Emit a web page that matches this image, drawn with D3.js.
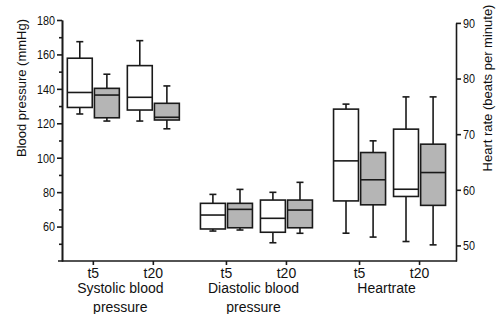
<!DOCTYPE html>
<html><head><meta charset="utf-8">
<script src="https://cdn.jsdelivr.net/npm/d3@7"></script>
<style>
html,body{margin:0;padding:0;background:#fff;}
text{font-family:"Liberation Sans",Arial,sans-serif;fill:#111;}
</style></head>
<body><svg id="c" width="496" height="314"></svg>
<script>
const groups = ["Systolic blood pressure", "Diastolic blood pressure", "Heartrate"];
const groupLines = [["Systolic blood", "pressure"], ["Diastolic blood", "pressure"], ["Heartrate"]];
const times = ["t5", "t20"];
const series = ["series1", "series2"];
// order: Systolic t5, t20, Diastolic t5, t20, Heartrate t5, t20
const s1Min = [125.4, 121.3, 57.4, 50.6, 52.2, 50.7];
const s1Q1  = [129.2, 127.7, 58.6, 56.7, 58.0, 58.8];
const s1Med = [137.9, 135.1, 66.7, 64.8, 65.2, 60.1];
const s1Q3  = [157.8, 153.5, 73.5, 75.4, 74.5, 70.9];
const s1Max = [167.4, 168.0, 78.7, 79.9, 75.4, 76.7];
const s2Min = [121.3, 116.8, 58.0, 56.1, 51.5, 50.1];
const s2Q1  = [123.2, 121.9, 59.3, 59.3, 57.3, 57.2];
const s2Med = [136.4, 123.5, 70.0, 69.6, 61.8, 63.1];
const s2Q3  = [140.3, 131.6, 73.5, 75.4, 66.7, 68.2];
const s2Max = [148.5, 141.7, 81.6, 85.7, 68.8, 76.7];
const leftTicks = [60, 80, 100, 120, 140, 160, 180];
const leftMinor = [50, 70, 90, 110, 130, 150, 170];
const rightTicks = [50, 60, 70, 80, 90];

const svg = d3.select("#c");
const ink = "#1a1a1a";
const X0 = 62, X1 = 456, YB = 261;

const yL = d3.scaleLinear().domain([40, 180]).range([YB, 20]);
const yR = d3.scaleLinear().domain([47.2, 90]).range([YB, 22.9]);
const xG = d3.scalePoint().domain(groups).range([X0, X1]).padding(0.48).align(0.48);
const xT = d3.scalePoint().domain(times).range([-30, 30]);
const xS = d3.scaleBand().domain(series).range([-26, 26]).paddingInner(0.08);

const rows = [];
groups.forEach((g, gi) => times.forEach((t, ti) => {
  const i = gi * 2 + ti;
  rows.push({g, t, s: "series1", min: s1Min[i], q1: s1Q1[i], med: s1Med[i], q3: s1Q3[i], max: s1Max[i]});
  rows.push({g, t, s: "series2", min: s2Min[i], q1: s2Q1[i], med: s2Med[i], q3: s2Q3[i], max: s2Max[i]});
}));

// boxes
const bw = xS.bandwidth();
const cap = 7;
rows.forEach(d => {
  const y = d.g === "Heartrate" ? yR : yL;
  const x = xG(d.g) + xT(d.t) + xS(d.s);
  const cx = x + bw / 2;
  const gg = svg.append("g").attr("stroke", ink).attr("stroke-width", 1.6).attr("fill", "none");
  gg.append("line").attr("x1", cx).attr("x2", cx).attr("y1", y(d.q3)).attr("y2", y(d.max));
  gg.append("line").attr("x1", cx).attr("x2", cx).attr("y1", y(d.q1)).attr("y2", y(d.min));
  gg.append("line").attr("x1", cx - cap / 2).attr("x2", cx + cap / 2).attr("y1", y(d.max)).attr("y2", y(d.max));
  gg.append("line").attr("x1", cx - cap / 2).attr("x2", cx + cap / 2).attr("y1", y(d.min)).attr("y2", y(d.min));
  gg.append("rect").attr("x", x).attr("width", bw).attr("y", y(d.q3)).attr("height", y(d.q1) - y(d.q3))
    .attr("fill", d.s === "series1" ? "#ffffff" : "#b5b5b5");
  gg.append("line").attr("x1", x).attr("x2", x + bw).attr("y1", y(d.med)).attr("y2", y(d.med));
});

// left axis
svg.append("g").attr("transform", `translate(${X0},0)`)
  .call(d3.axisLeft(yL).tickValues(leftTicks).tickSize(5).tickSizeOuter(0).tickPadding(2));
svg.append("g").attr("transform", `translate(${X0},0)`)
  .call(d3.axisLeft(yL).tickValues(leftMinor).tickSize(3).tickSizeOuter(0).tickFormat(""));
// right axis
svg.append("g").attr("transform", `translate(${X1},0)`)
  .call(d3.axisRight(yR).tickValues(rightTicks).tickSize(5).tickSizeOuter(0).tickPadding(2));
svg.selectAll(".domain, .tick line").attr("stroke", ink).attr("stroke-width", 1.6);
svg.selectAll(".tick text").attr("font-size", 13.5).style("fill", "#111")
  .each(function () {
    const w = this.getComputedTextLength();
    if (w > 0) d3.select(this).attr("textLength", w * 0.8).attr("lengthAdjust", "spacingAndGlyphs");
  });

// bottom axis
svg.append("line").attr("x1", X0 - 4).attr("x2", X1 + 1).attr("y1", YB).attr("y2", YB)
  .attr("stroke", ink).attr("stroke-width", 1.6);
groups.forEach(g => times.forEach(t => {
  const x = xG(g) + xT(t);
  svg.append("line").attr("x1", x).attr("x2", x).attr("y1", YB).attr("y2", YB + 4)
    .attr("stroke", ink).attr("stroke-width", 1.6);
  svg.append("text").attr("x", x).attr("y", 278).attr("text-anchor", "middle")
    .attr("font-size", 14).text(t);
}));
groups.forEach((g, gi) => {
  groupLines[gi].forEach((ln, li) => {
    svg.append("text").attr("x", xG(g) - 3).attr("y", 293 + li * 19).attr("text-anchor", "middle")
      .attr("font-size", 14).text(ln);
  });
});

svg.append("text").attr("transform", "translate(26,88) rotate(-90)").attr("text-anchor", "middle")
  .attr("font-size", 13).text("Blood pressure (mmHg)");
svg.append("text").attr("transform", "translate(492,88) rotate(-90)").attr("text-anchor", "middle")
  .attr("font-size", 13).text("Heart rate (beats per minute)");
</script></body></html>
